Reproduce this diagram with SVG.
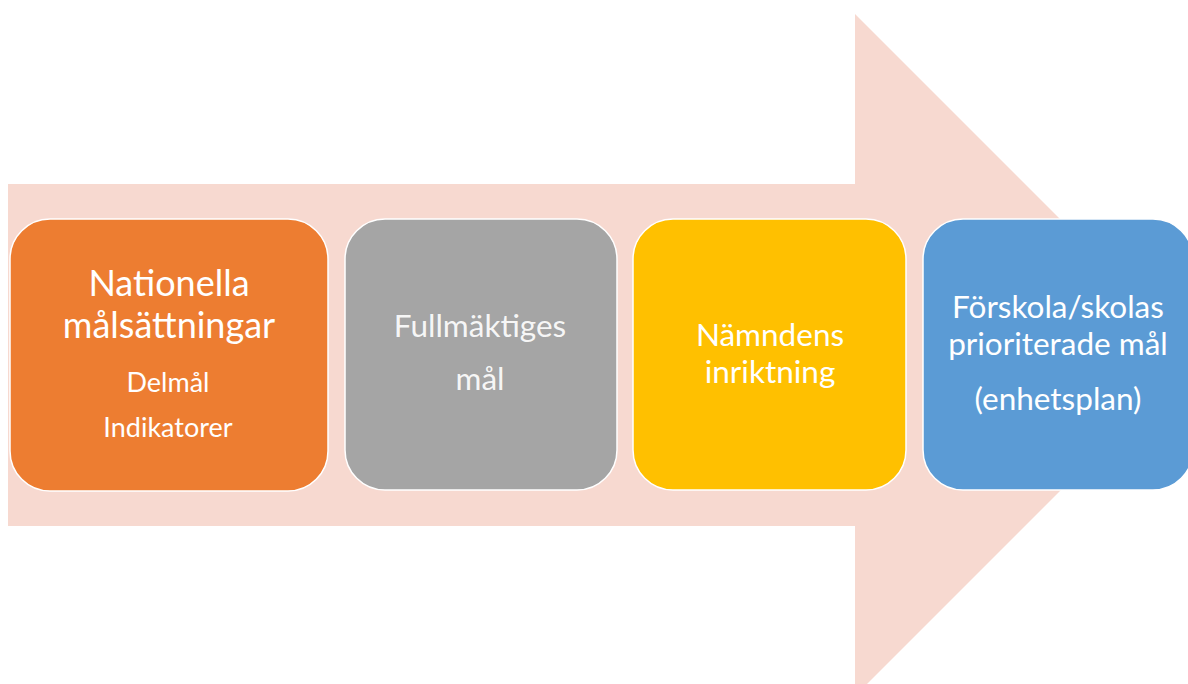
<svg xmlns="http://www.w3.org/2000/svg" width="1188" height="684" viewBox="0 0 1188 684">
  <style>
    .box { stroke: #ffffff; stroke-width: 1.5; }
    .t { font-family: Lato, "Open Sans", "Liberation Sans", sans-serif; fill: #ffffff; text-anchor: middle; }
    .big { font-size: 36px; }
    .mid { font-size: 31.5px; }
    .sm { font-size: 27px; }
  </style>
  <rect width="1188" height="684" fill="#ffffff"/>
  <path id="arrow" d="M8,184 L855,184 L855,14 L1196,355 L855,696 L855,526 L8,526 Z" fill="#F7D9D0"/>
  <g id="connectors"></g>
  <g id="node1">
    <rect class="box" x="10" y="219" width="318" height="272" rx="40" fill="#ED7D31"/>
    <text class="t big" x="169" y="296">Nationella</text>
    <text class="t big" x="169" y="338">målsättningar</text>
    <text class="t sm" x="168" y="392">Delmål</text>
    <text class="t sm" x="168" y="437">Indikatorer</text>
  </g>
  <g id="node2">
    <rect class="box" x="345" y="219" width="272" height="271" rx="40" fill="#A5A5A5"/>
    <text class="t mid" x="480" y="337" fill-opacity="0.92">Fullmäktiges</text>
    <text class="t mid" x="480" y="390" fill-opacity="0.92">mål</text>
  </g>
  <g id="node3">
    <rect class="box" x="633" y="219" width="273" height="271" rx="40" fill="#FFC000"/>
    <text class="t mid" x="770" y="346">Nämndens</text>
    <text class="t mid" x="770" y="383">inriktning</text>
  </g>
  <g id="node4">
    <rect class="box" x="923" y="219" width="270" height="271" rx="40" fill="#5B9BD5"/>
    <text class="t mid" x="1058" y="318">Förskola/skolas</text>
    <text class="t mid" x="1058" y="355">prioriterade mål</text>
    <text class="t mid" x="1058" y="410">(enhetsplan)</text>
  </g>
</svg>
